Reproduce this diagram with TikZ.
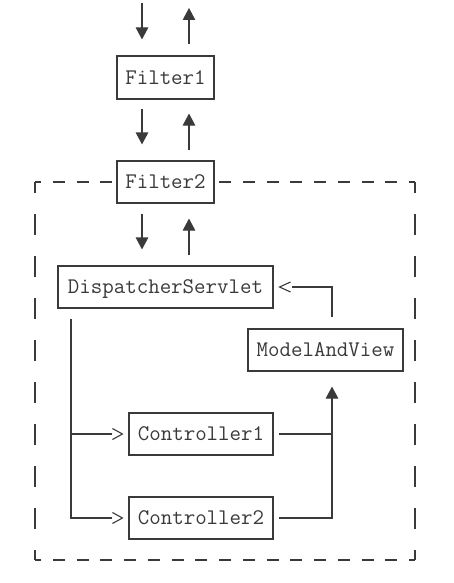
\documentclass[tikz,border=0pt]{standalone}
\usepackage{fontspec}
\usetikzlibrary{arrows.meta,calc}
\definecolor{ink}{HTML}{3a3a3a}
\begin{document}
\begin{tikzpicture}[x=1pt,y=-1pt,
  ink line/.style={draw=ink,line width=1.1pt},
  boxnode/.style={ink line,fill=white,inner sep=0pt,font=\ttfamily\fontsize{22.3pt}{23pt}\selectfont,text=ink,
    text height=13.2pt,text depth=0pt,minimum height=42pt},
  arr/.style={ink line,-{Triangle[length=12pt,width=12.5pt]}},
  plain/.style={ink line},
  hdash/.style={ink line,dash pattern=on 12pt off 11.73pt,dash phase=5.7pt},
  vdash/.style={ink line,dash pattern=on 21pt off 21pt,dash phase=10pt}]
\useasboundingbox (0,0) rectangle (454,583);
% frame coordinates
\coordinate (tl) at (35,182);
\coordinate (tr) at (415,182);
\coordinate (bl) at (35,560);
\coordinate (br) at (415,560);
\draw[hdash] (tl) -- (tr);
\draw[hdash] (bl) -- (br);
\draw[vdash] (tl) -- (bl);
\draw[vdash] (tr) -- (br);
% nodes
\node[boxnode,minimum width=97pt,minimum height=43pt] (f1) at (165.5,77.5) {Filter1};
\node[boxnode,minimum width=97pt] (f2) at (165.5,182) {Filter2};
\node[boxnode,minimum width=215pt] (ds) at (165.5,287) {DispatcherServlet};
\node[boxnode,minimum width=155pt] (mv) at (325.5,350) {ModelAndView};
\node[boxnode,minimum width=144pt] (c1) at (201,434) {Controller1};
\node[boxnode,minimum width=144pt] (c2) at (201,518) {Controller2};
% helper coordinates
\coordinate (dn) at (142,0);
\coordinate (up) at (189,0);
\coordinate (top) at (165.5,0);
\coordinate (lx) at (71,0);
\coordinate (rx) at (332,0);
% top arrows
\draw[arr,shorten <=3pt,shorten >=16pt] (dn|-top) -- (f1.north-|dn);
\draw[arr,shorten <=11pt,shorten >=8pt] (f1.north-|up) -- (up|-top);
% filter1 <-> filter2
\draw[arr,shorten <=9pt,shorten >=16pt] (f1.south-|dn) -- (f2.north-|dn);
\draw[arr,shorten <=10pt,shorten >=14pt] (f2.north-|up) -- (f1.south-|up);
% filter2 <-> dispatcher
\draw[arr,shorten <=10pt,shorten >=16pt] (f2.south-|dn) -- (ds.north-|dn);
\draw[arr,shorten <=10pt,shorten >=15pt] (ds.north-|up) -- (f2.south-|up);
% dispatcher -> controllers
\draw[plain,shorten <=10pt,shorten >=16pt] (ds.south-|lx) -- (c2.west-|lx) -- (c2.west);
\draw[plain,shorten >=16pt] (c1.west-|lx) -- (c1.west);
\draw[plain] ([xshift=-16pt,yshift=5.5pt]c1.west) -- ([xshift=-6pt]c1.west) -- ([xshift=-16pt,yshift=-5.5pt]c1.west);
\draw[plain] ([xshift=-16pt,yshift=5.5pt]c2.west) -- ([xshift=-6pt]c2.west) -- ([xshift=-16pt,yshift=-5.5pt]c2.west);
% controllers -> model and view
\draw[plain,shorten <=5pt] (c1.east) -- (c1.east-|rx);
\draw[arr,shorten <=5pt,shorten >=15pt] (c2.east) -- (c2.east-|rx) -- (mv.south-|rx);
% model and view -> dispatcher
\draw[plain,shorten <=11pt,shorten >=18pt] (mv.north-|rx) -- (ds.east-|rx) -- (ds.east);
\draw[plain] ([xshift=17pt,yshift=5pt]ds.east) -- ([xshift=6pt]ds.east) -- ([xshift=17pt,yshift=-5pt]ds.east);
\end{tikzpicture}
\end{document}
